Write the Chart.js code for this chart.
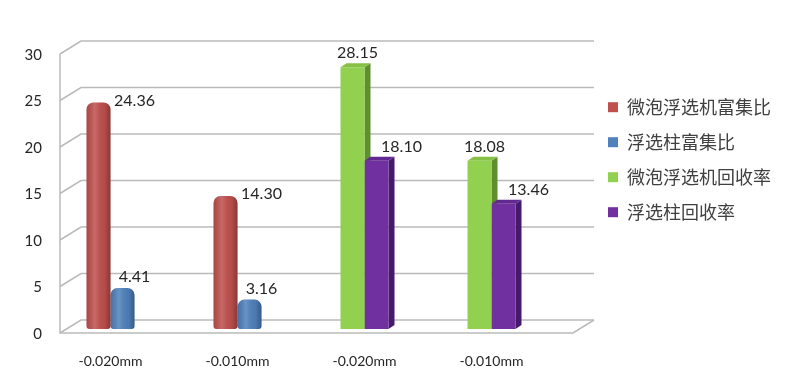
<!DOCTYPE html>
<html>
<head>
<meta charset="utf-8">
<script src="https://cdn.jsdelivr.net/npm/chart.js@4.4.0/dist/chart.umd.min.js"></script>
<style>
    html, body { margin: 0; padding: 0; background: #fff; }
    #wrap { width: 800px; height: 390px; }
</style>
</head>
<body>
<div id="wrap"><canvas id="chart"></canvas></div>
<script>
const categories = ["-0.020mm", "-0.010mm", "-0.020mm", "-0.010mm"];

const bubbleEnrich = [24.36, 14.30, null, null];
const columnEnrich = [4.41, 3.16, null, null];
const bubbleRecovery = [null, null, 28.15, 18.08];
const columnRecovery = [null, null, 18.10, 13.46];

const seriesNames = ["微泡浮选机富集比", "浮选柱富集比", "微泡浮选机回收率", "浮选柱回收率"];

const yMin = 0;
const yMax = 30;
const yStep = 5;

// depth of the fake 3d box
const DX = 21;
const DY = 13;

const textColor = "#262626";

// back wall, floor and the sides of the square bars
const box3d = {
    id: "box3d",
    beforeDatasetsDraw(chart) {
        const { ctx, chartArea: a, scales: { y } } = chart;
        const fl = a.left + 13;
        const fr = a.right + 18;

        ctx.save();
        ctx.strokeStyle = "#bababa";
        ctx.lineWidth = 1.5;

        y.ticks.forEach(t => {
            const fy = y.getPixelForValue(t.value) + 4;
            ctx.beginPath();
            ctx.moveTo(fl, fy);
            ctx.lineTo(fl + DX, fy - DY);
            ctx.lineTo(fr + DX, fy - DY);
            ctx.stroke();
        });

        const f0 = y.getPixelForValue(yMin) + 4;
        const fTop = y.getPixelForValue(yMax) + 4;
        ctx.beginPath();
        ctx.moveTo(fl, fTop);
        ctx.lineTo(fl, f0);
        ctx.lineTo(fr, f0);
        ctx.lineTo(fr + DX, f0 - DY);
        ctx.stroke();

        chart.data.datasets.forEach((ds, i) => {
            if (!ds.prism) return;
            chart.getDatasetMeta(i).data.forEach((b, j) => {
                if (ds.data[j] == null) return;
                const left = b.x - b.width / 2;
                const right = b.x + b.width / 2;
                const d = 6, h = 4;

                ctx.fillStyle = ds.sideColor;
                ctx.beginPath();
                ctx.moveTo(right, b.y);
                ctx.lineTo(right + d, b.y - h);
                ctx.lineTo(right + d, b.base - h);
                ctx.lineTo(right, b.base);
                ctx.closePath();
                ctx.fill();

                ctx.fillStyle = ds.topColor;
                ctx.beginPath();
                ctx.moveTo(left, b.y);
                ctx.lineTo(left + d, b.y - h);
                ctx.lineTo(right + d, b.y - h);
                ctx.lineTo(right, b.y);
                ctx.closePath();
                ctx.fill();
            });
        });
        ctx.restore();
    },

    afterDatasetsDraw(chart) {
        const { ctx } = chart;
        ctx.save();

        // cylinder shading
        chart.data.datasets.forEach((ds, i) => {
            if (!ds.cylinder) return;
            chart.getDatasetMeta(i).data.forEach((b, j) => {
                if (ds.data[j] == null) return;
                const left = b.x - b.width / 2;
                const right = b.x + b.width / 2;
                const g = ctx.createLinearGradient(left, 0, right, 0);
                g.addColorStop(0, "rgba(0,0,0,0.12)");
                g.addColorStop(0.35, "rgba(255,255,255,0.15)");
                g.addColorStop(0.75, "rgba(0,0,0,0.05)");
                g.addColorStop(1, "rgba(0,0,0,0.30)");
                ctx.fillStyle = g;
                ctx.beginPath();
                ctx.roundRect(left, b.y, b.width, b.base - b.y, [7, 7, 3, 3]);
                ctx.fill();
            });
        });

        // value labels
        ctx.font = "16px Lato";
        ctx.fillStyle = textColor;
        ctx.textAlign = "center";
        ctx.textBaseline = "middle";
        chart.data.datasets.forEach((ds, i) => {
            chart.getDatasetMeta(i).data.forEach((b, j) => {
                const v = ds.data[j];
                if (v == null) return;
                ctx.fillText(v.toFixed(2), b.x + ds.labelDx, b.y + ds.labelDy);
            });
        });
        ctx.restore();
    }
};

new Chart(document.getElementById("chart"), {
    type: "bar",
    data: {
        labels: categories,
        datasets: [
            {
                label: seriesNames[0],
                data: bubbleEnrich,
                backgroundColor: "#c0504d",
                cylinder: true,
                labelDx: 36,
                labelDy: -2
            },
            {
                label: seriesNames[1],
                data: columnEnrich,
                backgroundColor: "#4f81bd",
                cylinder: true,
                labelDx: 12,
                labelDy: -11
            },
            {
                label: seriesNames[2],
                data: bubbleRecovery,
                backgroundColor: "#92d050",
                prism: true,
                sideColor: "#5f8f2c",
                topColor: "#86c045",
                labelDx: 5,
                labelDy: -14
            },
            {
                label: seriesNames[3],
                data: columnRecovery,
                backgroundColor: "#7030a0",
                prism: true,
                sideColor: "#47196b",
                topColor: "#622891",
                labelDx: 25,
                labelDy: -14
            }
        ].map(ds => Object.assign({
            skipNull: true,
            borderWidth: 0,
            borderSkipped: false,
            borderRadius: ds.cylinder ? { topLeft: 7, topRight: 7, bottomLeft: 3, bottomRight: 3 } : 0,
            categoryPercentage: 0.378,
            barPercentage: 1
        }, ds))
    },
    options: {
        responsive: true,
        maintainAspectRatio: false,
        animation: false,
        layout: { padding: { top: 50, right: 19, bottom: 0, left: 0 } },
        plugins: {
            tooltip: { enabled: false },
            legend: {
                position: "right",
                align: "start",
                maxWidth: 220,
                title: { display: true, text: "", padding: { top: 30, bottom: 0 }, font: { size: 1 } },
                labels: {
                    boxWidth: 10,
                    boxHeight: 10,
                    padding: 17,
                    color: "#404040",
                    font: { family: "'Noto Sans CJK SC'", size: 18 }
                }
            }
        },
        scales: {
            x: {
                grid: { display: false, drawTicks: false },
                border: { display: false },
                ticks: {
                    color: textColor,
                    padding: 24,
                    font: { family: "Lato", size: 14 }
                },
                afterFit(axis) { axis.height = 61; }
            },
            y: {
                min: yMin,
                max: yMax,
                grid: { display: false, drawTicks: false },
                border: { display: false },
                ticks: {
                    stepSize: yStep,
                    color: textColor,
                    padding: 5,
                    labelOffset: 5,
                    font: { family: "Lato", size: 15 }
                },
                afterFit(axis) { axis.width = 47; }
            },
            spacer: {
                position: "right",
                display: true,
                grid: { display: false, drawTicks: false },
                border: { display: false },
                ticks: { display: false },
                afterFit(axis) { axis.width = 36; }
            }
        }
    },
    plugins: [box3d]
});
</script>
</body>
</html>
